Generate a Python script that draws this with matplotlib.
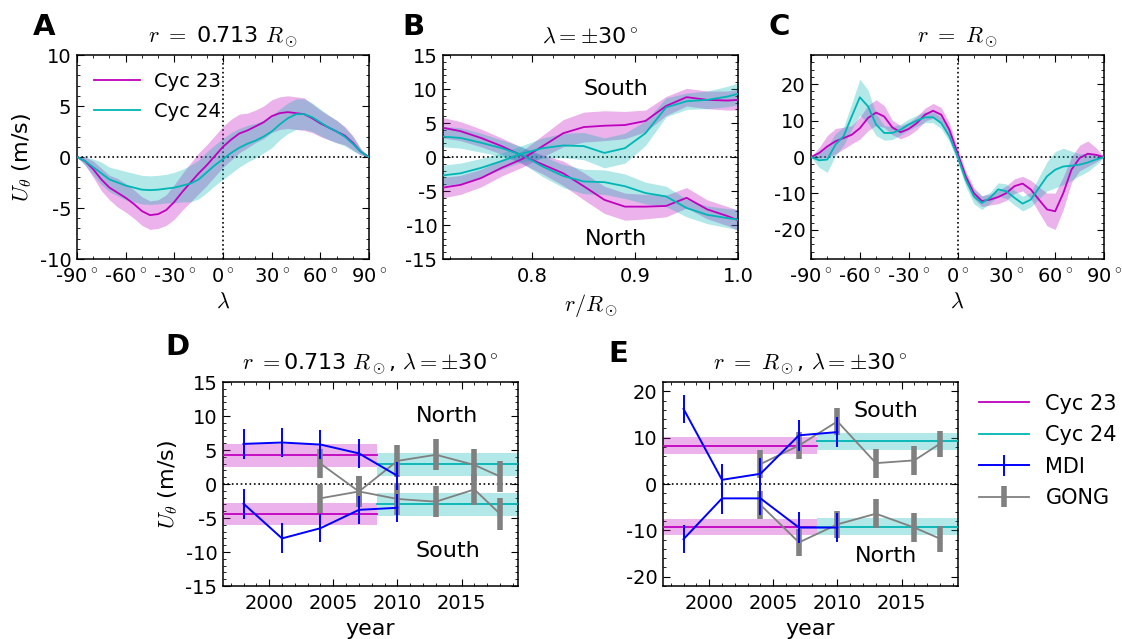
import numpy as np
import matplotlib
matplotlib.use("Agg")
import matplotlib.pyplot as plt
from matplotlib.ticker import MultipleLocator, FormatStrFormatter, FixedLocator, FixedFormatter

plt.rcParams.update({
    "font.family": "DejaVu Sans",
    "font.size": 14,
    "mathtext.fontset": "cm",
    "axes.unicode_minus": False,
    "axes.linewidth": 1.1,
    "xtick.direction": "in",
    "ytick.direction": "in",
    "xtick.top": True,
    "ytick.right": True,
    "xtick.major.size": 5,
    "ytick.major.size": 5,
    "xtick.minor.size": 2.5,
    "ytick.minor.size": 2.5,
    "xtick.labelsize": 14,
    "ytick.labelsize": 14,
    "xtick.major.pad": 6,
    "ytick.major.pad": 4,
})

C23 = "#bf00bf"
C24 = "#00b5b5"
TITLE_FS = 16
LABEL_FS = 16

# ---- panel A: r = 0.713 Rsun, latitude profile
lat = list(range(-90, 95, 5))
a_u23 = [0, -0.4, -1.2, -2.2, -3.0, -3.5, -4.0, -4.6, -5.3, -5.7, -5.6, -5.2, -4.4,
         -3.4, -2.5, -1.6, -0.8, 0.1, 1.0, 1.7, 2.3, 2.6, 3.0, 3.4, 4.0, 4.3, 4.4,
         4.3, 4.2, 3.8, 3.3, 2.9, 2.5, 2.1, 1.4, 0.5, 0]
a_e23 = [0, 0.4, 0.8, 1.1, 1.2, 1.4, 1.4, 1.4, 1.4, 1.4, 1.4, 1.5, 1.7, 1.8, 1.9,
         2.0, 2.0, 2.0, 2.0, 2.0, 1.9, 1.7, 1.6, 1.6, 1.6, 1.6, 1.6, 1.6, 1.6, 1.4,
         1.3, 1.2, 1.1, 0.9, 0.7, 0.3, 0]
a_u24 = [0, -0.4, -1.0, -1.6, -2.2, -2.5, -2.8, -3.0, -3.2, -3.25, -3.2, -3.1, -3.0,
         -2.8, -2.6, -2.2, -1.5, -0.8, -0.2, 0.4, 0.9, 1.3, 1.6, 2.0, 2.5, 3.2, 3.8,
         4.2, 4.2, 3.9, 3.4, 2.9, 2.5, 2.0, 1.3, 0.5, 0]
a_e24 = [0, 0.4, 0.8, 1.1, 1.2, 1.3, 1.4, 1.4, 1.4, 1.4, 1.4, 1.4, 1.5, 1.6, 1.8,
         1.9, 2.0, 2.0, 2.0, 2.0, 1.9, 1.8, 1.7, 1.6, 1.6, 1.5, 1.5, 1.5, 1.5, 1.4,
         1.3, 1.2, 1.1, 0.9, 0.7, 0.3, 0]

# ---- panel B: lambda = +-30, radial profile
rad = [0.713, 0.73, 0.75, 0.77, 0.79, 0.81, 0.83, 0.85, 0.87, 0.89, 0.91, 0.93,
       0.95, 0.97, 0.99, 1.0]
b_s23 = [-4.5, -4.1, -3.1, -1.6, -0.3, 1.6, 3.5, 4.4, 4.6, 4.7, 5.3, 7.5, 8.8, 8.4, 8.3, 8.4]
b_s23e = [1.5, 1.4, 1.3, 1.2, 1.2, 1.6, 2.0, 2.2, 2.2, 2.0, 1.6, 1.4, 1.3, 1.3, 1.4, 1.5]
b_s24 = [-2.7, -2.4, -1.6, -0.6, 0.5, 1.3, 1.7, 1.6, 0.6, 1.3, 3.5, 7.3, 8.2, 8.4, 8.9, 9.3]
b_s24e = [1.5, 1.5, 1.4, 1.2, 1.2, 1.5, 1.8, 2.0, 2.2, 2.2, 1.8, 1.4, 1.2, 1.3, 1.5, 1.6]
b_n23 = [4.3, 3.8, 2.8, 1.6, 0.2, -1.1, -2.4, -4.3, -6.3, -7.3, -7.3, -7.2, -6.0, -7.7, -8.7, -9.3]
b_n23e = [1.5, 1.4, 1.3, 1.2, 1.2, 1.4, 1.8, 2.0, 2.0, 2.0, 1.8, 1.6, 1.5, 1.4, 1.4, 1.5]
b_n24 = [3.0, 2.8, 2.1, 1.3, 0.3, -1.4, -2.8, -3.6, -3.7, -4.3, -5.3, -5.8, -7.5, -8.5, -9.0, -9.2]
b_n24e = [1.5, 1.5, 1.4, 1.2, 1.2, 1.5, 1.7, 1.8, 1.8, 1.8, 1.6, 1.5, 1.3, 1.3, 1.4, 1.5]

# ---- panel C: r = Rsun, latitude profile
c_u23 = [0, 1.1, 2.9, 4.3, 5.2, 6.1, 7.9, 10.7, 12.2, 11.1, 8.1, 6.8, 7.7, 9.3, 11.6,
         12.7, 11.6, 7.5, 1.1, -5.3, -9.9, -12.1, -11.7, -11.0, -9.9, -8.0, -7.3, -8.9,
         -11.7, -14.4, -14.9, -9.9, -3.5, -0.3, 0.9, 0.6, 0]
c_e23 = [0, 1.5, 3.0, 3.5, 3.0, 2.5, 3.0, 3.5, 3.5, 3.0, 2.0, 1.8, 1.8, 1.8, 1.8, 2.0,
         2.0, 1.8, 1.5, 1.5, 1.5, 1.5, 1.5, 1.8, 2.0, 2.0, 2.0, 2.5, 3.5, 4.5, 5.0, 4.5,
         3.5, 3.5, 3.5, 2.0, 0]
c_u24 = [0, -0.9, -0.7, 3.4, 5.7, 11.1, 16.4, 13.9, 8.9, 6.6, 6.6, 7.5, 8.9, 10.0, 10.9,
         10.9, 9.3, 5.7, 0.2, -6.2, -10.8, -12.6, -11.2, -8.9, -9.4, -11.2, -12.8, -11.7,
         -8.5, -5.3, -3.5, -2.6, -2.4, -2.1, -1.5, -0.7, 0]
c_e24 = [0, 2.0, 3.5, 3.0, 2.5, 3.5, 5.0, 4.5, 3.0, 2.0, 1.8, 1.5, 1.5, 1.5, 1.5, 1.5,
         1.5, 1.5, 1.5, 1.8, 2.0, 1.8, 1.5, 1.8, 2.0, 2.0, 2.0, 2.0, 3.0, 4.0, 5.0, 5.0,
         4.0, 3.0, 2.5, 1.5, 0]

# ---- panels D, E: time series
cycle_split = 2008.4
mdi_years = [1998, 2001, 2004, 2007, 2010]
gong_years = [2004, 2007, 2010, 2013, 2016, 2018]

d_mdi_n = [5.9, 6.1, 5.8, 4.5, 1.2]
d_mdi_s = [-2.9, -8.0, -6.5, -3.8, -3.5]
d_mdi_err = [2.2, 2.2, 2.1, 2.1, 2.1]
d_gong_n = [3.0, -1.1, 3.4, 4.3, 2.8, 1.1]
d_gong_s = [-2.1, -1.1, -2.2, -2.6, -0.8, -4.4]
d_gong_err = [2.1, 2.3, 2.3, 2.3, 2.3, 2.3]
d_cyc23 = (4.2, -4.4)
d_cyc24 = (2.9, -3.0)
d_cyc_err = 1.65

e_mdi_s = [16.2, 0.9, 2.2, 10.5, 11.2]
e_mdi_n = [-11.9, -3.1, -3.1, -9.4, -9.4]
e_mdi_err = [3.0, 3.4, 3.5, 3.4, 3.2]
e_gong_s = [4.3, 8.3, 13.5, 4.5, 5.1, 8.7]
e_gong_n = [-4.5, -12.6, -8.7, -6.4, -9.4, -11.8]
e_gong_err = [3.0, 3.0, 2.9, 3.1, 3.1, 2.8]
e_cyc23 = (8.3, -9.3)
e_cyc24 = (9.2, -9.2)
e_cyc_err = 1.8

W, H = 1122, 639
fig = plt.figure(figsize=(W / 100, H / 100), dpi=100)


def px_axes(x0, y0, x1, y1):
    return fig.add_axes([x0 / W, 1 - y1 / H, (x1 - x0) / W, (y1 - y0) / H])


def zero_lines(ax, vertical=False):
    ax.axhline(0, color="k", ls=":", lw=1.2, zorder=1)
    if vertical:
        ax.axvline(0, color="k", ls=":", lw=1.2, zorder=1)


def deg_axis(ax):
    ax.set_xlim(-90, 90)
    ticks = list(range(-90, 91, 30))
    ax.xaxis.set_major_locator(FixedLocator(ticks))
    ax.xaxis.set_major_formatter(FixedFormatter([f"{t}$^\\circ$" for t in ticks]))
    ax.xaxis.set_minor_locator(MultipleLocator(10))
    ax.set_xlabel(r"$\lambda$", fontsize=LABEL_FS)


def band(ax, x, y, e, color, label=None):
    y = np.array(y)
    e = np.array(e)
    ax.fill_between(x, y - e, y + e, color=color, alpha=0.3, lw=0, zorder=2)
    ax.plot(x, y, color=color, lw=1.3, label=label, zorder=3)


# A
axA = px_axes(77, 55, 369, 259)
zero_lines(axA, vertical=True)
band(axA, lat, a_u23, a_e23, C23, "Cyc 23")
band(axA, lat, a_u24, a_e24, C24, "Cyc 24")
deg_axis(axA)
axA.set_ylim(-10, 10)
axA.yaxis.set_major_locator(MultipleLocator(5))
axA.yaxis.set_minor_locator(MultipleLocator(1))
axA.set_ylabel(r"$U_\theta$ (m/s)", fontsize=LABEL_FS)
axA.set_title(r"$r\ =\ $0.713 $R_\odot$", fontsize=TITLE_FS, pad=9)
axA.legend(loc="upper left", frameon=False, fontsize=14, handlelength=2.4,
           borderaxespad=0.45, labelspacing=0.6, handletextpad=0.7)

# B
axB = px_axes(443, 55, 738, 259)
zero_lines(axB)
band(axB, rad, b_s23, b_s23e, C23)
band(axB, rad, b_n23, b_n23e, C23)
band(axB, rad, b_s24, b_s24e, C24)
band(axB, rad, b_n24, b_n24e, C24)
axB.set_xlim(0.713, 1.0)
axB.set_ylim(-15, 15)
axB.xaxis.set_major_locator(MultipleLocator(0.1))
axB.xaxis.set_minor_locator(MultipleLocator(0.02))
axB.xaxis.set_major_formatter(FormatStrFormatter("%.1f"))
axB.yaxis.set_major_locator(MultipleLocator(5))
axB.yaxis.set_minor_locator(MultipleLocator(1))
axB.set_xlabel(r"$r/R_\odot$", fontsize=LABEL_FS)
axB.set_title(r"$\lambda=\pm$30$^\circ$", fontsize=TITLE_FS, pad=9)
axB.text(0.881, 10, "South", ha="center", va="center", fontsize=16)
axB.text(0.881, -12, "North", ha="center", va="center", fontsize=16)

# C
axC = px_axes(811, 55, 1104, 259)
zero_lines(axC, vertical=True)
band(axC, lat, c_u23, c_e23, C23)
band(axC, lat, c_u24, c_e24, C24)
deg_axis(axC)
axC.set_ylim(-28, 28)
axC.yaxis.set_major_locator(MultipleLocator(10))
axC.yaxis.set_minor_locator(MultipleLocator(2))
axC.set_title(r"$r\ =\ R_\odot$", fontsize=TITLE_FS, pad=9)


def time_panel(ax, cyc23, cyc24, cyc_err, gong_a, gong_b, gong_err,
               mdi_a, mdi_b, mdi_err, ylim, major, minor):
    zero_lines(ax)
    xlo, xhi = 1996.4, 2019.4
    ax.set_xlim(xlo, xhi)
    for v in cyc23:
        ax.fill_between([xlo, cycle_split], v - cyc_err, v + cyc_err, color=C23,
                        alpha=0.3, lw=0, zorder=2)
    for v in cyc24:
        ax.fill_between([cycle_split, xhi], v - cyc_err, v + cyc_err, color=C24,
                        alpha=0.3, lw=0, zorder=2)
    for i, v in enumerate(cyc23):
        ax.plot([xlo, cycle_split], [v, v], color=C23, lw=1.3, zorder=3,
                label="Cyc 23" if i == 0 else None)
    for i, v in enumerate(cyc24):
        ax.plot([cycle_split, xhi], [v, v], color=C24, lw=1.3, zorder=3,
                label="Cyc 24" if i == 0 else None)
    for i, g in enumerate((gong_a, gong_b)):
        ax.errorbar(gong_years, g, yerr=gong_err, color="#808080", lw=1.3,
                    elinewidth=4, capsize=0, zorder=4,
                    label="GONG" if i == 0 else None)
    for i, m in enumerate((mdi_a, mdi_b)):
        ax.errorbar(mdi_years, m, yerr=mdi_err, color="#0000ff", lw=1.4,
                    elinewidth=1.4, capsize=0, zorder=5,
                    label="MDI" if i == 0 else None)
    ax.set_ylim(*ylim)
    ax.xaxis.set_major_locator(MultipleLocator(5))
    ax.xaxis.set_minor_locator(MultipleLocator(1))
    ax.yaxis.set_major_locator(MultipleLocator(major))
    ax.yaxis.set_minor_locator(MultipleLocator(minor))
    ax.set_xlabel("year", fontsize=LABEL_FS)


# D
axD = px_axes(223, 382, 518, 586)
time_panel(axD, d_cyc23, d_cyc24, d_cyc_err, d_gong_n, d_gong_s, d_gong_err,
           d_mdi_n, d_mdi_s, d_mdi_err, (-15, 15), 5, 1)
axD.set_ylabel(r"$U_\theta$ (m/s)", fontsize=LABEL_FS)
axD.set_title(r"$r\ =$0.713 $R_\odot$, $\lambda=\pm$30$^\circ$", fontsize=TITLE_FS, pad=9)
axD.text(2013.9, 10, "North", ha="center", va="center", fontsize=16)
axD.text(2013.9, -9.9, "South", ha="center", va="center", fontsize=16)

# E
axE = px_axes(663, 382, 958, 586)
time_panel(axE, e_cyc23, e_cyc24, e_cyc_err, e_gong_s, e_gong_n, e_gong_err,
           e_mdi_s, e_mdi_n, e_mdi_err, (-22, 22), 10, 2)
axE.set_title(r"$r\ =\ R_\odot$, $\lambda=\pm$30$^\circ$", fontsize=TITLE_FS, pad=9)
axE.text(2013.8, 15.7, "South", ha="center", va="center", fontsize=16)
axE.text(2013.8, -15.5, "North", ha="center", va="center", fontsize=16)

handles, labels = axE.get_legend_handles_labels()
order = [labels.index(k) for k in ("Cyc 23", "Cyc 24", "MDI", "GONG")]
fig.legend([handles[i] for i in order], [labels[i] for i in order],
           loc="upper left", bbox_to_anchor=(960 / W, 1 - 375 / H),
           frameon=False, fontsize=15, handlelength=2.4, labelspacing=0.55)

for lab, x, y in (("A", 33, 35), ("B", 402, 35), ("C", 768, 35),
                  ("D", 165, 355), ("E", 608, 362)):
    fig.text(x / W, 1 - y / H, lab, fontsize=21, fontweight="bold", va="baseline")

fig.savefig("out.png", dpi=100)
